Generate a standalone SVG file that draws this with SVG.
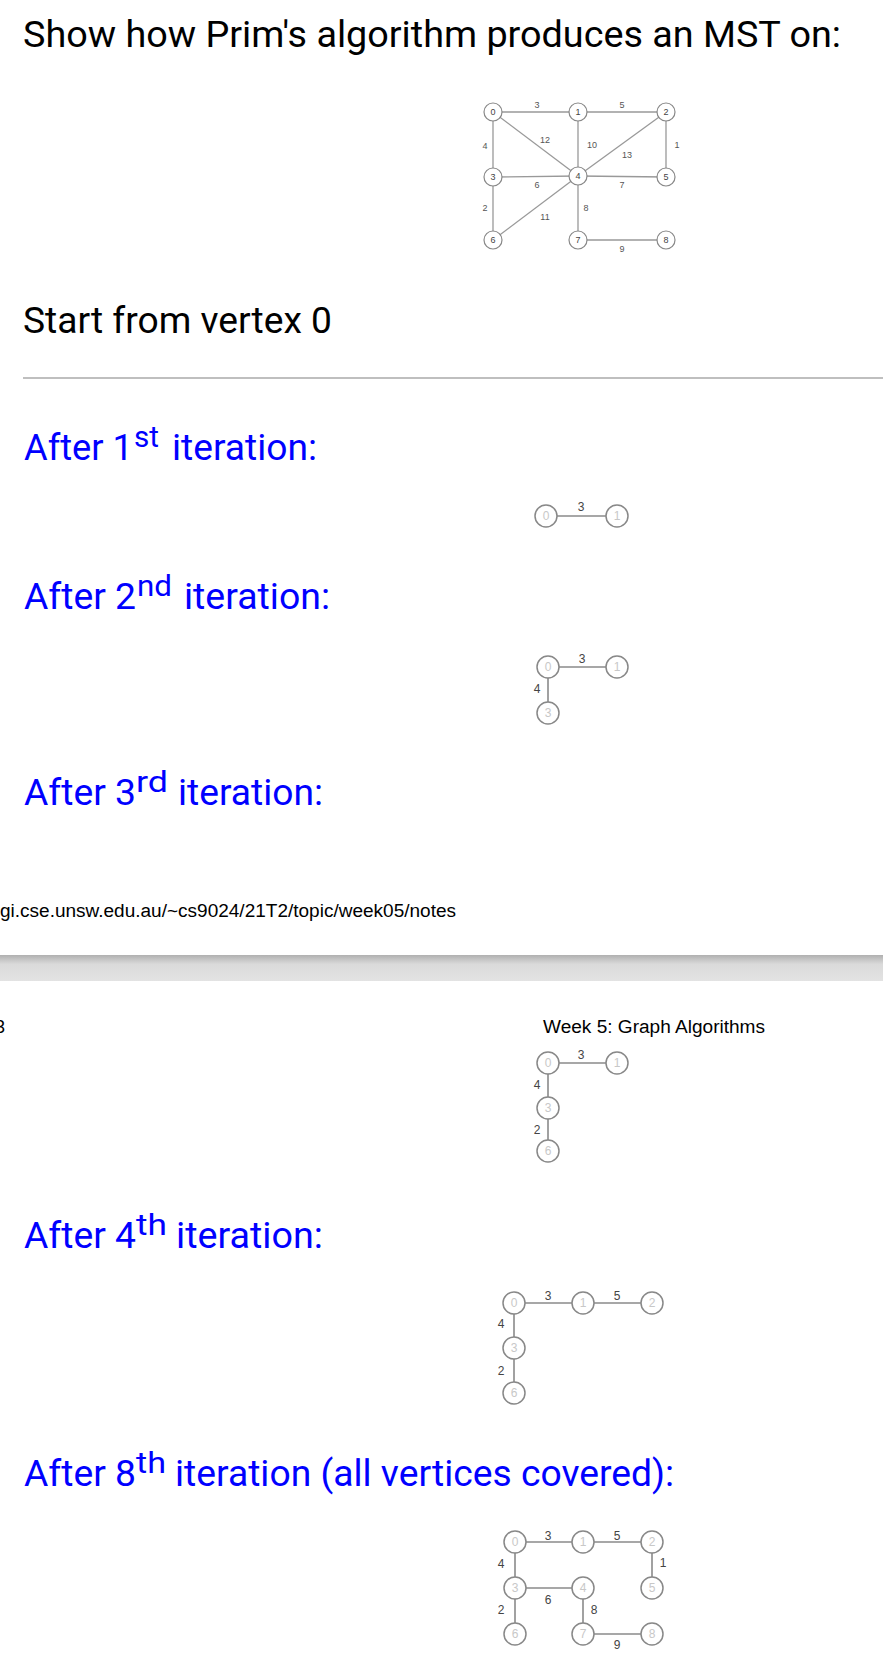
<svg xmlns="http://www.w3.org/2000/svg" width="883" height="1670" viewBox="0 0 883 1670">
<style>
.h{font-family:Roboto,"Noto Sans",sans-serif;font-size:37px;fill:#000}
.b{fill:#0000ff;font-family:Roboto,"Noto Sans",sans-serif;font-size:37px}
.sup{fill:#0000ff;font-family:Roboto,"Noto Sans",sans-serif;font-size:29px}
.ar{font-family:"Liberation Sans",Arial,sans-serif;font-size:18px;fill:#000}
.e{stroke:#8a8a8a;stroke-width:1.6;fill:none}
.te{stroke:#999;stroke-width:1.3;fill:none}
.n circle{fill:#fff;stroke:#888;stroke-width:1.5}
.n text{font-family:"Liberation Sans",Arial,sans-serif;font-size:12px;fill:#c8c8c8;text-anchor:middle}
.t circle{fill:#fff;stroke:#888;stroke-width:1.2}
.t text{font-family:"Liberation Sans",Arial,sans-serif;font-size:9px;fill:#444;text-anchor:middle}
.w{font-family:"Liberation Sans",Arial,sans-serif;font-size:12px;fill:#444;text-anchor:middle}
.tw{font-family:"Liberation Sans",Arial,sans-serif;font-size:9px;fill:#555;text-anchor:middle}
</style>
<defs>
<linearGradient id="bar" x1="0" y1="0" x2="0" y2="1">
<stop offset="0" stop-color="#b0b0b0"/>
<stop offset="0.35" stop-color="#dadada"/>
<stop offset="1" stop-color="#e3e3e3"/>
</linearGradient>
</defs>
<rect width="883" height="1670" fill="#fff"/>

<g id="texts">
<text class="h" x="23" y="47" textLength="818" lengthAdjust="spacingAndGlyphs">Show how Prim's algorithm produces an MST on:</text>
<text class="h" x="23" y="333" textLength="309" lengthAdjust="spacingAndGlyphs">Start from vertex 0</text>
<line x1="23" y1="378" x2="883" y2="378" stroke="#aaa" stroke-width="1.5"/>

<text class="b" x="24" y="460" textLength="109" lengthAdjust="spacingAndGlyphs">After 1</text>
<text class="sup" x="134" y="447" textLength="25" lengthAdjust="spacingAndGlyphs">st</text>
<text class="b" x="172" y="460" textLength="145" lengthAdjust="spacingAndGlyphs">iteration:</text>

<text class="b" x="24" y="609" textLength="112" lengthAdjust="spacingAndGlyphs">After 2</text>
<text class="sup" x="137" y="596" textLength="35" lengthAdjust="spacingAndGlyphs">nd</text>
<text class="b" x="184" y="609" textLength="146" lengthAdjust="spacingAndGlyphs">iteration:</text>

<text class="b" x="24" y="805" textLength="112" lengthAdjust="spacingAndGlyphs">After 3</text>
<text class="sup" x="136" y="792" textLength="32" lengthAdjust="spacingAndGlyphs">rd</text>
<text class="b" x="178" y="805" textLength="145" lengthAdjust="spacingAndGlyphs">iteration:</text>

<text class="ar" x="0" y="917" textLength="456" lengthAdjust="spacingAndGlyphs">gi.cse.unsw.edu.au/~cs9024/21T2/topic/week05/notes</text>
<rect x="0" y="955" width="883" height="26" fill="url(#bar)"/>
<text class="ar" x="-5" y="1033">3</text>
<text class="ar" x="543" y="1033" textLength="222" lengthAdjust="spacingAndGlyphs">Week 5: Graph Algorithms</text>

<text class="b" x="24" y="1248" textLength="112" lengthAdjust="spacingAndGlyphs">After 4</text>
<text class="sup" x="136" y="1235" textLength="31" lengthAdjust="spacingAndGlyphs">th</text>
<text class="b" x="176" y="1248" textLength="147" lengthAdjust="spacingAndGlyphs">iteration:</text>

<text class="b" x="24" y="1486" textLength="112" lengthAdjust="spacingAndGlyphs">After 8</text>
<text class="sup" x="136" y="1473" textLength="30" lengthAdjust="spacingAndGlyphs">th</text>
<text class="b" x="175" y="1486" textLength="499" lengthAdjust="spacingAndGlyphs">iteration (all vertices covered):</text>
</g>

<!-- Top graph -->
<g id="g0-edges">
<line class="te" x1="493" y1="112" x2="578" y2="112"/>
<line class="te" x1="578" y1="112" x2="666" y2="112"/>
<line class="te" x1="493" y1="112" x2="493" y2="177"/>
<line class="te" x1="493" y1="112" x2="578" y2="176"/>
<line class="te" x1="578" y1="112" x2="578" y2="176"/>
<line class="te" x1="666" y1="112" x2="578" y2="176"/>
<line class="te" x1="666" y1="112" x2="666" y2="177"/>
<line class="te" x1="493" y1="177" x2="578" y2="176"/>
<line class="te" x1="578" y1="176" x2="666" y2="177"/>
<line class="te" x1="493" y1="177" x2="493" y2="240"/>
<line class="te" x1="578" y1="176" x2="493" y2="240"/>
<line class="te" x1="578" y1="176" x2="578" y2="240"/>
<line class="te" x1="578" y1="240" x2="666" y2="240"/>
<text class="tw" x="537" y="108">3</text>
<text class="tw" x="622" y="108">5</text>
<text class="tw" x="545" y="143">12</text>
<text class="tw" x="592" y="148">10</text>
<text class="tw" x="627" y="158">13</text>
<text class="tw" x="677" y="148">1</text>
<text class="tw" x="485" y="149">4</text>
<text class="tw" x="537" y="188">6</text>
<text class="tw" x="622" y="188">7</text>
<text class="tw" x="485" y="211">2</text>
<text class="tw" x="545" y="220">11</text>
<text class="tw" x="586" y="211">8</text>
<text class="tw" x="622" y="252">9</text>
</g>
<g id="g0-n0" class="t"><circle cx="493" cy="112" r="9"/><text x="493" y="115">0</text></g>
<g id="g0-n1" class="t"><circle cx="578" cy="112" r="9"/><text x="578" y="115">1</text></g>
<g id="g0-n2" class="t"><circle cx="666" cy="112" r="9"/><text x="666" y="115">2</text></g>
<g id="g0-n3" class="t"><circle cx="493" cy="177" r="9"/><text x="493" y="180">3</text></g>
<g id="g0-n4" class="t"><circle cx="578" cy="176" r="9"/><text x="578" y="179">4</text></g>
<g id="g0-n5" class="t"><circle cx="666" cy="177" r="9"/><text x="666" y="180">5</text></g>
<g id="g0-n6" class="t"><circle cx="493" cy="240" r="9"/><text x="493" y="243">6</text></g>
<g id="g0-n7" class="t"><circle cx="578" cy="240" r="9"/><text x="578" y="243">7</text></g>
<g id="g0-n8" class="t"><circle cx="666" cy="240" r="9"/><text x="666" y="243">8</text></g>

<!-- Graph after 1st -->
<g id="g1-edges">
<line class="e" x1="546" y1="516" x2="617" y2="516"/>
<text class="w" x="581" y="511">3</text>
</g>
<g id="g1-n0" class="n"><circle cx="546" cy="516" r="11"/><text x="546" y="520">0</text></g>
<g id="g1-n1" class="n"><circle cx="617" cy="516" r="11"/><text x="617" y="520">1</text></g>

<!-- Graph after 2nd -->
<g id="g2-edges">
<line class="e" x1="548" y1="667" x2="617" y2="667"/>
<line class="e" x1="548" y1="667" x2="548" y2="713"/>
<text class="w" x="582" y="663">3</text>
<text class="w" x="537" y="693">4</text>
</g>
<g id="g2-n0" class="n"><circle cx="548" cy="667" r="11"/><text x="548" y="671">0</text></g>
<g id="g2-n1" class="n"><circle cx="617" cy="667" r="11"/><text x="617" y="671">1</text></g>
<g id="g2-n3" class="n"><circle cx="548" cy="713" r="11"/><text x="548" y="717">3</text></g>

<!-- Graph after 3rd -->
<g id="g3-edges">
<line class="e" x1="548" y1="1063" x2="617" y2="1063"/>
<line class="e" x1="548" y1="1063" x2="548" y2="1151"/>
<text class="w" x="581" y="1059">3</text>
<text class="w" x="537" y="1089">4</text>
<text class="w" x="537" y="1134">2</text>
</g>
<g id="g3-n0" class="n"><circle cx="548" cy="1063" r="11"/><text x="548" y="1067">0</text></g>
<g id="g3-n1" class="n"><circle cx="617" cy="1063" r="11"/><text x="617" y="1067">1</text></g>
<g id="g3-n3" class="n"><circle cx="548" cy="1108" r="11"/><text x="548" y="1112">3</text></g>
<g id="g3-n6" class="n"><circle cx="548" cy="1151" r="11"/><text x="548" y="1155">6</text></g>

<!-- Graph after 4th -->
<g id="g4-edges">
<line class="e" x1="514" y1="1303" x2="652" y2="1303"/>
<line class="e" x1="514" y1="1303" x2="514" y2="1393"/>
<text class="w" x="548" y="1300">3</text>
<text class="w" x="617" y="1300">5</text>
<text class="w" x="501" y="1328">4</text>
<text class="w" x="501" y="1375">2</text>
</g>
<g id="g4-n0" class="n"><circle cx="514" cy="1303" r="11"/><text x="514" y="1307">0</text></g>
<g id="g4-n1" class="n"><circle cx="583" cy="1303" r="11"/><text x="583" y="1307">1</text></g>
<g id="g4-n2" class="n"><circle cx="652" cy="1303" r="11"/><text x="652" y="1307">2</text></g>
<g id="g4-n3" class="n"><circle cx="514" cy="1348" r="11"/><text x="514" y="1352">3</text></g>
<g id="g4-n6" class="n"><circle cx="514" cy="1393" r="11"/><text x="514" y="1397">6</text></g>

<!-- Graph after 8th -->
<g id="g8-edges">
<line class="e" x1="515" y1="1542" x2="652" y2="1542"/>
<line class="e" x1="515" y1="1542" x2="515" y2="1634"/>
<line class="e" x1="652" y1="1542" x2="652" y2="1588"/>
<line class="e" x1="515" y1="1588" x2="583" y2="1588"/>
<line class="e" x1="583" y1="1588" x2="583" y2="1634"/>
<line class="e" x1="583" y1="1634" x2="652" y2="1634"/>
<text class="w" x="548" y="1540">3</text>
<text class="w" x="617" y="1540">5</text>
<text class="w" x="501" y="1568">4</text>
<text class="w" x="663" y="1567">1</text>
<text class="w" x="548" y="1604">6</text>
<text class="w" x="501" y="1614">2</text>
<text class="w" x="594" y="1614">8</text>
<text class="w" x="617" y="1649">9</text>
</g>
<g id="g8-n0" class="n"><circle cx="515" cy="1542" r="11"/><text x="515" y="1546">0</text></g>
<g id="g8-n1" class="n"><circle cx="583" cy="1542" r="11"/><text x="583" y="1546">1</text></g>
<g id="g8-n2" class="n"><circle cx="652" cy="1542" r="11"/><text x="652" y="1546">2</text></g>
<g id="g8-n3" class="n"><circle cx="515" cy="1588" r="11"/><text x="515" y="1592">3</text></g>
<g id="g8-n4" class="n"><circle cx="583" cy="1588" r="11"/><text x="583" y="1592">4</text></g>
<g id="g8-n5" class="n"><circle cx="652" cy="1588" r="11"/><text x="652" y="1592">5</text></g>
<g id="g8-n6" class="n"><circle cx="515" cy="1634" r="11"/><text x="515" y="1638">6</text></g>
<g id="g8-n7" class="n"><circle cx="583" cy="1634" r="11"/><text x="583" y="1638">7</text></g>
<g id="g8-n8" class="n"><circle cx="652" cy="1634" r="11"/><text x="652" y="1638">8</text></g>
</svg>
